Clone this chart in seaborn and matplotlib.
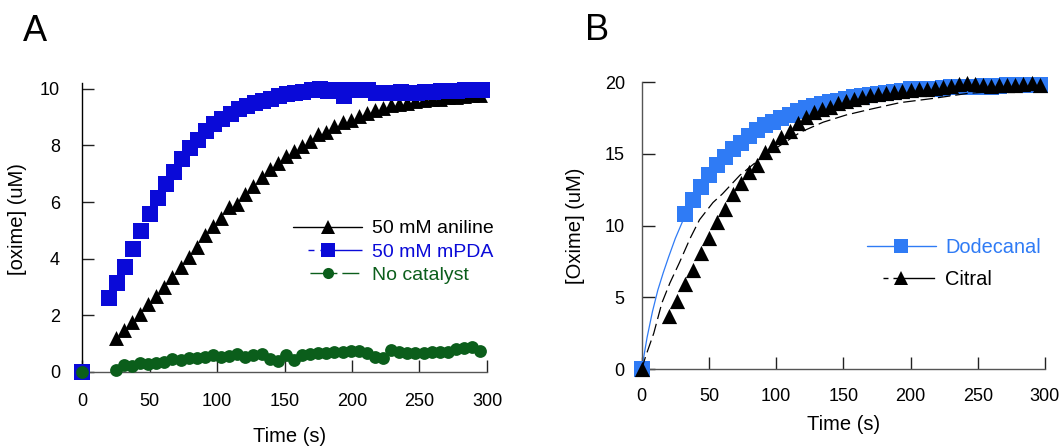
import numpy as np
import pandas as pd
import matplotlib
matplotlib.use("Agg")
import matplotlib.pyplot as plt
from matplotlib.lines import Line2D
import seaborn as sns

# ---------------- data: panel A ----------------
aniline_t = np.arange(25, 296, 6)
aniline_y = [1.20, 1.48, 1.75, 2.03, 2.38, 2.68, 3.01, 3.34, 3.72, 4.07,
             4.40, 4.82, 5.17, 5.43, 5.81, 5.94, 6.28, 6.55, 6.87, 7.17,
             7.38, 7.62, 7.79, 7.99, 8.17, 8.42, 8.47, 8.68, 8.82, 8.91,
             9.03, 9.15, 9.27, 9.33, 9.42, 9.47, 9.52, 9.57, 9.60, 9.63,
             9.66, 9.70, 9.72, 9.75, 9.78, 9.80]

mpda_t = np.concatenate([[0], np.arange(20, 297, 6)])
mpda_y = [0.0,
          2.60, 3.15, 3.72, 4.34, 4.98, 5.57, 6.13, 6.65, 7.06, 7.52,
          7.90, 8.21, 8.52, 8.77, 8.94, 9.11, 9.29, 9.39, 9.50, 9.59,
          9.65, 9.74, 9.82, 9.86, 9.88, 9.95, 10.0, 9.92, 9.95, 9.76,
          9.98, 9.98, 9.98, 9.86, 9.86, 9.86, 9.88, 9.86, 9.86, 9.88,
          9.90, 9.92, 9.93, 9.94, 9.95, 9.98, 9.98]

nocat_t = np.concatenate([[0], np.arange(25, 296, 6)])
nocat_y = [0.0,
           0.06, 0.24, 0.20, 0.30, 0.27, 0.30, 0.35, 0.45, 0.41, 0.50,
           0.48, 0.53, 0.59, 0.53, 0.56, 0.61, 0.51, 0.59, 0.62, 0.44,
           0.38, 0.59, 0.41, 0.59, 0.62, 0.65, 0.67, 0.68, 0.71, 0.73,
           0.73, 0.65, 0.53, 0.47, 0.77, 0.71, 0.67, 0.65, 0.67, 0.71,
           0.68, 0.71, 0.79, 0.83, 0.89, 0.74]

labels_A = ["50 mM aniline", "50 mM mPDA", "No catalyst"]

# ---------------- data: panel B ----------------
dodec_t = np.concatenate([[0], np.arange(32, 297, 6)])
dodec_y = [0.0,
           10.81, 11.79, 12.71, 13.53, 14.22, 14.80, 15.31, 15.78, 16.24, 16.66,
           17.00, 17.24, 17.47, 17.70, 18.00, 18.17, 18.33, 18.47, 18.58, 18.70,
           18.82, 18.93, 19.03, 19.10, 19.16, 19.21, 19.33, 19.40, 19.49, 19.49,
           19.54, 19.54, 19.56, 19.63, 19.67, 19.63, 19.67, 19.72, 19.67, 19.72,
           19.77, 19.77, 19.79, 19.81, 19.77]

citral_t = np.concatenate([[0], np.arange(20, 297, 6)])
citral_y = [0.0,
            3.71, 4.71, 5.94, 6.91, 8.07, 9.12, 10.23, 11.14, 12.20, 12.99,
            13.76, 14.22, 15.15, 15.61, 16.15, 16.59, 17.12, 17.59, 17.94, 18.10,
            18.28, 18.52, 18.70, 18.79, 18.93, 19.10, 19.16, 19.26, 19.33, 19.40,
            19.44, 19.49, 19.49, 19.56, 19.63, 19.72, 19.86, 19.91, 19.86, 19.79,
            19.72, 19.79, 19.79, 19.79, 19.86, 19.91, 19.79]

# fitted curves
dodec_fit_t = [0, 4, 8, 12, 16, 20, 25, 30, 35, 40, 50, 60, 70, 80, 100, 120, 150, 180, 220, 260, 300]
dodec_fit_y = [0, 2.2, 4.0, 5.5, 6.7, 7.8, 9.1, 10.2, 11.2, 12.0, 13.5, 14.7, 15.6, 16.3,
               17.4, 18.1, 18.8, 19.2, 19.5, 19.65, 19.75]
citral_fit_t = [0, 3, 9, 15, 21, 28, 36, 43, 53, 60, 73, 90, 105, 118, 135, 152, 170, 192,
                217, 242, 270, 300]
citral_fit_y = [0, 0.9, 2.5, 4.6, 6.0, 7.4, 9.1, 10.4, 11.6, 12.2, 13.5, 14.8, 15.7, 16.5,
                17.2, 17.7, 18.1, 18.56, 18.86, 19.2, 19.4, 19.55]

labels_B = ["Dodecanal", "Citral"]

# ---------------- style ----------------
sns.set_theme(style="ticks")
plt.rcParams["font.family"] = ["Liberation Sans", "DejaVu Sans"]
plt.rcParams["axes.linewidth"] = 1.0
plt.rcParams["text.color"] = "black"
plt.rcParams["axes.labelcolor"] = "black"
plt.rcParams["xtick.color"] = "black"
plt.rcParams["ytick.color"] = "black"

BLUE_A = "#0a0ad8"
GREEN_A = "#0b5e1b"
BLUE_B = "#2f7bf5"

fig = plt.figure(figsize=(10.64, 4.46), dpi=100)
axA = fig.add_axes([0.0771, 0.1666, 0.3806, 0.6473])
axB = fig.add_axes([0.6031, 0.1726, 0.3790, 0.6435])

W, H = 1064, 446

# ---------------- panel A ----------------
sns.scatterplot(x=aniline_t, y=aniline_y, ax=axA, marker="^", s=115, color="black",
                linewidth=0, clip_on=False, zorder=3)
sns.scatterplot(x=mpda_t, y=mpda_y, ax=axA, marker="s", s=125, color=BLUE_A,
                linewidth=0, clip_on=False, zorder=4)
sns.scatterplot(x=nocat_t, y=nocat_y, ax=axA, marker="o", s=85, color=GREEN_A,
                linewidth=0, clip_on=False, zorder=5)

axA.set_xlim(0, 300)
axA.set_ylim(0, 10.21)
axA.set_xticks([0, 50, 100, 150, 200, 250, 300])
axA.set_yticks([0, 2, 4, 6, 8, 10])
axA.tick_params(axis="both", direction="in", length=8.6, width=1, color="#222222",
                labelsize=13, labelcolor="black")
axA.tick_params(axis="y", pad=15.8)
axA.tick_params(axis="x", pad=15)
for s in ["top", "right"]:
    axA.spines[s].set_visible(False)
axA.spines["left"].set_color("black")
axA.spines["bottom"].set_color("#555555")
axA.set_xlabel("Time (s)", fontsize=14.5, color="black")
axA.set_ylabel("[oxime] (uM)", fontsize=14.5, color="black")
axA.xaxis.set_label_coords(0.5136, -0.19)
axA.yaxis.set_label_coords(-0.1365, 0.529)

hA = [
    Line2D([], [], color="black", lw=1, marker="^", markersize=9.5, markeredgewidth=0),
    Line2D([], [], color=BLUE_A, lw=1, marker="s", markersize=9.5, markeredgewidth=0,
           linestyle=(44.6, (4.3, 4.3, 36, 10.8))),
    Line2D([], [], color=GREEN_A, lw=1, marker="o", markersize=8, markeredgewidth=0,
           linestyle=(35.2, (19.4, 3.6, 12.2, 12.2))),
]
legA = axA.legend(hA, labels_A, loc="center left", bbox_to_anchor=(0.521, 0.4146),
                  frameon=False, fontsize=14, handlelength=3.55, handletextpad=0.5,
                  labelspacing=0.3, borderpad=0, borderaxespad=0, numpoints=1)
for t, c in zip(legA.get_texts(), ["black", BLUE_A, GREEN_A]):
    t.set_color(c)

# ---------------- panel B ----------------
sns.lineplot(x=dodec_fit_t, y=dodec_fit_y, ax=axB, color=BLUE_B, lw=0.9, zorder=2)
sns.scatterplot(x=dodec_t, y=dodec_y, ax=axB, marker="s", s=125, color=BLUE_B,
                linewidth=0, clip_on=False, zorder=3)
axB.plot(citral_fit_t, citral_fit_y, color="black", lw=0.9, linestyle=(0, (10, 4)), zorder=4)
sns.scatterplot(x=citral_t, y=citral_y, ax=axB, marker="^", s=120, color="black",
                linewidth=0, clip_on=False, zorder=5)

axB.set_xlim(0, 300)
axB.set_ylim(0, 20)
axB.set_xticks([0, 50, 100, 150, 200, 250, 300])
axB.set_yticks([0, 5, 10, 15, 20])
axB.tick_params(axis="both", direction="in", length=9, width=1, color="#222222",
                labelsize=13, labelcolor="black")
axB.tick_params(axis="y", pad=12.2)
axB.tick_params(axis="x", pad=13.7)
for s in ["top", "right"]:
    axB.spines[s].set_visible(False)
axB.spines["left"].set_color("#555555")
axB.spines["bottom"].set_color("#555555")
axB.set_xlabel("Time (s)", fontsize=14.5, color="black")
axB.set_ylabel("[Oxime] (uM)", fontsize=14.5, color="black")
axB.xaxis.set_label_coords(0.5, -0.16)
axB.yaxis.set_label_coords(-0.1406, 0.5)

hB = [
    Line2D([], [], color=BLUE_B, lw=1, marker="s", markersize=10, markeredgewidth=0),
    Line2D([], [], color="black", lw=1, marker="^", markersize=10, markeredgewidth=0,
           linestyle=(37.2, (3.6, 3.6, 30, 11.5))),
]
legB = axB.legend(hB, labels_B, loc="center left", bbox_to_anchor=(0.5587, 0.369),
                  frameon=False, fontsize=14.4, handlelength=3.45, handletextpad=0.45,
                  labelspacing=0.65, borderpad=0, borderaxespad=0, numpoints=1)
for t, c in zip(legB.get_texts(), [BLUE_B, "black"]):
    t.set_color(c)

# panel letters
fig.text(23 / W, 1 - 40.7 / H, "A", fontsize=26, ha="left", va="baseline", color="black")
fig.text(585 / W, 1 - 40.5 / H, "B", fontsize=26, ha="left", va="baseline", color="black")

fig.savefig("out.png", dpi=100)
